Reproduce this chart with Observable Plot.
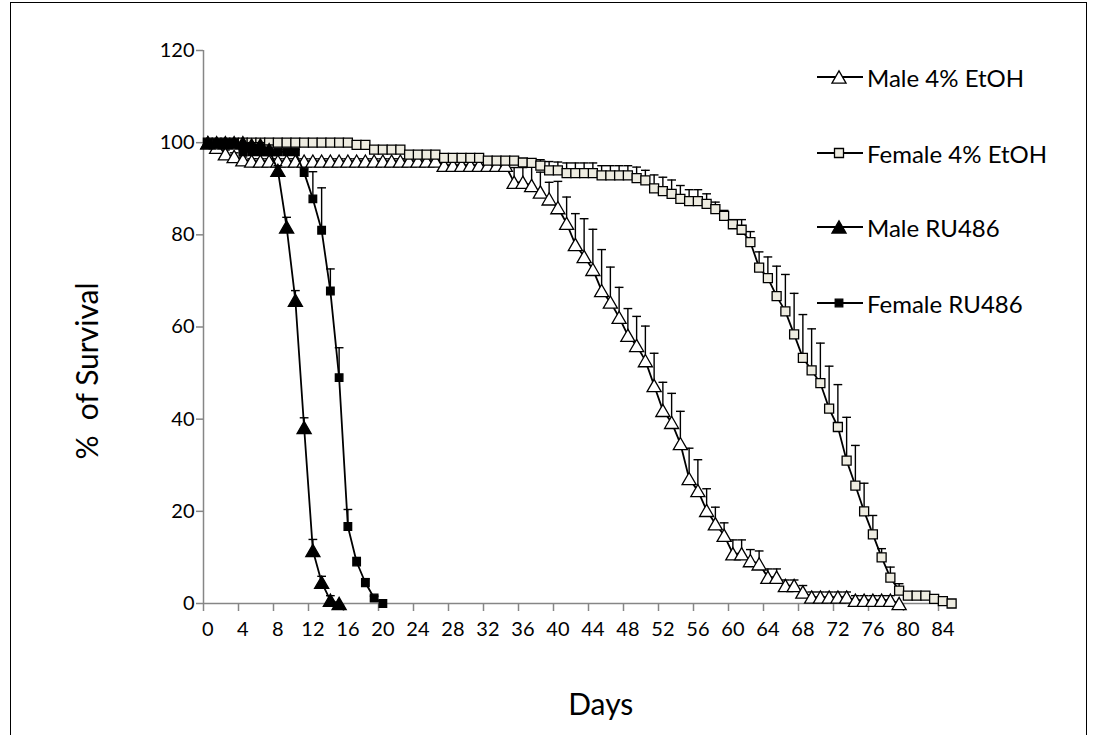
<!DOCTYPE html>
<html><head><meta charset="utf-8">
<script src="https://cdn.jsdelivr.net/npm/d3@7"></script>
<script src="https://cdn.jsdelivr.net/npm/@observablehq/plot@0.6"></script>
<style>
body{margin:0;background:#fff;overflow:hidden;font-family:Lato,sans-serif;}
#wrap{position:relative;width:1096px;height:735px;overflow:hidden;}
#border{position:absolute;left:10px;top:2px;width:1077px;height:800px;border:1.5px solid #000;box-sizing:border-box;}
#chart{position:absolute;left:0;top:0;}
#legend{position:absolute;left:817px;top:0;}
.item{position:absolute;left:0;display:flex;align-items:center;white-space:nowrap;font-size:24px;height:30px;}
.item svg{margin-right:4px;}
</style></head><body>
<div id="wrap"><div id="border"></div><div id="chart"></div><div id="legend"></div></div>
<script>
// ---- data ----
const seriesNames = ["Male 4% EtOH", "Female 4% EtOH", "Male RU486", "Female RU486"];

const maleEtOH = [100,99,97.6,97,96.3,96,96,96,96,96,96,96,96,96,96,96,96,96,96,96,96,96,96,96,96,96,96,95.1,95.1,95.1,95.1,95.1,95.1,95.1,95.1,
  91.4,91.4,90.7,89.3,87.8,85.9,82.5,77.9,75.3,72.5,67.9,65.4,62.1,58.2,56,52.7,47.3,41.9,39.3,34.7,27.1,24.5,20.2,17.3,14.8,10.8,10.8,9.3,8.6,5.7,5.7,3.9,3.9,2.5,1.4,1.4,1.4,1.4,1.4,0.7,0.7,0.7,0.7,0.7,0];
const maleEtOHErr = [0,0.8,0.8,0.8,0.6,0.5,0.5,0.5,0.5,0.5,0.5,0.5,0.5,0.5,0.5,0.5,0.5,0.5,0.5,0.5,0.5,0.5,0.5,0.5,0.5,0.5,0.5,0.6,0.6,0.6,0.6,0.6,0.6,0.6,0.6,
  3.2,3.2,4,4.3,3.6,5.7,5.7,6.7,8.2,8.7,8.9,7.6,6.5,5.8,6.3,7.5,7,6.1,6.3,7,6.6,6.7,4.7,3.6,2.7,3,3,2.4,2.8,1.8,1.8,1.2,1.2,1.4,1.1,1.1,1.1,1.1,1.1,1,1,1,1,1,0];

const femaleEtOH = [100,100,100,100,100,100,100,100,100,100,100,100,100,100,100,100,100,99.5,99.5,98.5,98.5,98.5,98.5,97.4,97.4,97.4,97.4,96.7,96.7,96.7,96.7,96.7,96.1,96.1,96.1,96.1,95.7,95.6,95,94,94,93.4,93.4,93.4,93.4,92.9,92.9,92.9,92.9,92.3,91.8,90.1,89.5,88.9,87.8,87.3,87.3,86.7,85.6,84.1,82.3,81.1,78.4,72.9,70.6,66.7,63.4,58.4,53.3,50.6,47.8,42.3,38.3,31,25.6,20,15,10,5.6,2.8,1.7,1.7,1.7,1,0.5,0];
const femaleEtOHErr = [0,0,0,0,0,0,0,0,0,0,0,0,0,0,0,0,0,0.5,0.5,0.5,0.5,0.5,0.5,0.5,0.5,0.5,0.5,0.5,0.5,0.5,0.5,0.5,0.5,0.5,0.5,0.5,0.6,0.7,1.3,1.9,1.8,2.2,2.2,2.2,2.2,2.1,2.1,2.1,2.1,2.4,2.2,2.9,3,3,2.9,2.5,2.5,2.2,1.5,1.2,1,2.2,2.3,3.4,4.6,6.5,8,8.9,9.4,9,8.7,9.2,9.2,9.4,8.7,6.1,4.1,1.9,2.3,1.5,0.5,0.5,0.5,0.5,0.5,0];

const maleRU = [100,100,100,100,100,99.5,99.5,98.5,94,81.7,65.8,38.2,11.5,4.6,0.7,0];
const maleRUErr = [0,0,0,0,0,0.5,0.5,1,1,2.1,2.1,2.1,2.4,1.3,1,0];

const femaleRU = [100,100,100,100,98,98,98,98,98,98,98,93.5,87.8,81,67.8,49,16.7,9,4.5,1.2,0];
const femaleRUErr = [0,0,0,0,0.5,0.5,0.5,0.5,0.5,0.5,0.5,1,5.9,9.2,4.8,6.5,3.7,1,0.9,0.4,0];

const yTicks = [0,20,40,60,80,100,120];
const xLabels = [0,4,8,12,16,20,24,28,32,36,40,44,48,52,56,60,64,68,72,76,80,84];
const xDomain = [-0.5, 85.5];
const xTickMarks = xLabels.map(d => d - 0.5);

// ---- symbols ----
const triSym = {draw(ctx, size){ const r = Math.sqrt(size/Math.PI); const w = 1.5*r, h = 1.3*r;
  ctx.moveTo(0,-h); ctx.lineTo(w,h); ctx.lineTo(-w,h); ctx.closePath(); }};
const sqSym = {draw(ctx, size){ const r = Math.sqrt(size/Math.PI); const s = 0.9*r;
  ctx.moveTo(-s,-s); ctx.lineTo(s,-s); ctx.lineTo(s,s); ctx.lineTo(-s,s); ctx.closePath(); }};

const styles = [
  {symbol: triSym, fill: "#ffffff", r: 4.7},
  {symbol: sqSym, fill: "#EEECE1", r: 5.0},
  {symbol: triSym, fill: "#000000", r: 4.7},
  {symbol: sqSym, fill: "#000000", r: 4.2}
];
const valueLists = [maleEtOH, femaleEtOH, maleRU, femaleRU];
const errLists = [maleEtOHErr, femaleEtOHErr, maleRUErr, femaleRUErr];

const capHalf = 0.5;
const marks = [];
seriesNames.forEach((name, i) => {
  const rows = valueLists[i].map((v, day) => ({series: name, day, v, e: errLists[i][day]}));
  const st = styles[i];
  const errRows = rows.filter(d => d.e > 0);
  marks.push(Plot.line(rows, {x: "day", y: "v", stroke: "black", strokeWidth: 1.8}));
  marks.push(Plot.ruleX(errRows, {x: "day", y1: "v", y2: d => d.v + d.e, stroke: "black", strokeWidth: 1.4}));
  marks.push(Plot.link(errRows, {x1: d => d.day - capHalf, x2: d => d.day + capHalf, y1: d => d.v + d.e, y2: d => d.v + d.e, stroke: "black", strokeWidth: 1.4}));
  marks.push(Plot.dot(rows, {x: "day", y: "v", symbol: () => st.symbol, r: st.r, fill: st.fill, stroke: "black", strokeWidth: 1.3}));
});

const chart = Plot.plot({
  width: 1096, height: 735,
  marginLeft: 203, marginRight: 140.5, marginTop: 50, marginBottom: 132,
  style: {fontFamily: "Lato, sans-serif", fontSize: "20px", color: "#000", background: "transparent"},
  x: {domain: xDomain},
  y: {domain: [0, 120]},
  symbol: {type: "identity"},
  marks: [
    Plot.axisY({ticks: yTicks, tickSize: 7, tickPadding: 2, stroke: "#868686", fill: "#000", label: null, strokeWidth: 1.5}),
    Plot.axisX({ticks: xTickMarks, tickSize: 8, tickFormat: () => "", stroke: "#868686", label: null, strokeWidth: 1.5}),
    Plot.axisX({ticks: xLabels, tickSize: 0, tickPadding: 18, fill: "#000", label: null}),
    Plot.ruleX([xDomain[0]], {stroke: "#868686", strokeWidth: 1.5}),
    Plot.ruleY([0], {stroke: "#868686", strokeWidth: 1.5}),
    ...marks,
    Plot.text(["%  of Survival"], {frameAnchor: "left", dx: -115, dy: 44, rotate: -90, fontSize: 30, textAnchor: "middle", lineAnchor: "middle", fill: "#000"}),
    Plot.text(["Days"], {frameAnchor: "bottom", dx: 21, dy: 102, fontSize: 30, textAnchor: "middle", lineAnchor: "middle", fill: "#000"})
  ]
});
document.getElementById("chart").appendChild(chart);

// ---- legend ----
const legend = d3.select("#legend");
const legendY = [77, 153, 227, 303];
seriesNames.forEach((name, i) => {
  const st = styles[i];
  const item = legend.append("div").attr("class", "item").style("top", (legendY[i] - 15) + "px");
  const svg = item.append("svg").attr("width", 46).attr("height", 30);
  svg.append("line").attr("x1", 0).attr("x2", 46).attr("y1", 15).attr("y2", 15).attr("stroke", "black").attr("stroke-width", 1.8);
  svg.append("path").attr("transform", "translate(22,15)")
    .attr("d", d3.symbol().type(st.symbol).size(Math.PI * st.r * st.r)())
    .attr("fill", st.fill).attr("stroke", "black").attr("stroke-width", 1.3);
  item.append("span").text(name);
});
</script>
</body></html>
